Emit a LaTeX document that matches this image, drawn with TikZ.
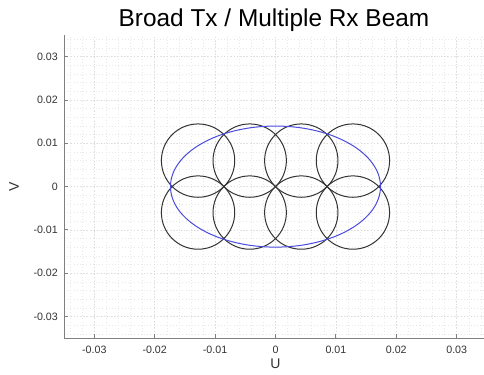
\documentclass[tikz,border=0pt]{standalone}
\usepackage{fontspec}
\setmainfont{Liberation Sans}
\usepackage{xcolor}
\usepackage{tikz}
\usetikzlibrary{positioning,calc}

\definecolor{axisgray}{HTML}{808080}
\definecolor{labelgray}{HTML}{333333}
\definecolor{beamblue}{HTML}{4B4BE0}

\begin{document}
\begin{tikzpicture}[
  x=45.3pt, y=32.475pt,
  minorgrid/.style={draw=gray!18, dotted, line width=0.4pt},
  majorgrid/.style={draw=gray!28, dotted, line width=0.5pt},
  axisline/.style={draw=axisgray, line width=0.8pt},
  tick/.style={draw=axisgray, line width=0.6pt},
  ticklabel/.style={font=\fontsize{8}{9}\selectfont, text=labelgray, inner sep=0pt},
  axislabel/.style={font=\fontsize{10.5}{12}\selectfont, text=labelgray, inner sep=0pt},
  rxbeam/.style={draw=black!80, line width=0.75pt},
  txbeam/.style={draw=beamblue, line width=0.75pt}
]
  \useasboundingbox[fill=white] (-4.561,-4.351) rectangle (3.452,4.309);

  % grid
  \foreach \g in {-3.4,-3.2,...,3.45}
    \draw[minorgrid] (\g,-3.5) -- (\g,3.5);
  \foreach \g in {-3.4,-3.2,...,3.45}
    \draw[minorgrid] (-3.5,\g) -- (3.5,\g);
  \foreach \g in {-3,...,3} {
    \draw[majorgrid] (\g,-3.5) -- (\g,3.5);
    \draw[majorgrid] (-3.5,\g) -- (3.5,\g);
  }

  % Rx beams
  \foreach \u in {-1.282,-0.427,0.427,1.282}
    \foreach \v in {-0.6,0.6}
      \draw[rxbeam] (\u,\v) circle[radius=27.5pt];

  % Tx beam
  \draw[txbeam] (0,0) ellipse[x radius=78.75pt, y radius=45.4pt];

  % axes
  \coordinate (corner) at (-3.5,-3.5);
  \draw[axisline] (-3.5,3.5) -- (corner) -- (3.5,-3.5);
  \foreach \t/\lab in {-3/-0.03,-2/-0.02,-1/-0.01,0/0,1/0.01,2/0.02,3/0.03} {
    \draw[tick] (\t,-3.5) -- ++(0,3pt);
    \draw[tick] (-3.5,\t) -- ++(3pt,0);
    \node[ticklabel, anchor=north] (xt\t) at ([yshift=-6pt]\t,-3.5) {\lab};
    \node[ticklabel, anchor=east] (yt\t) at ([xshift=-4.5pt]-3.5,\t) {\lab};
  }

  \node[axislabel] (ulab) at (0,-4.097) {U};
  \node[axislabel, rotate=90] (vlab) at (-4.33,0) {V};
  \node[font=\fontsize{18.3}{21}\selectfont, inner sep=0pt] (title) at (-0.025,3.848) {Broad Tx / Multiple Rx Beam};
\end{tikzpicture}
\end{document}
